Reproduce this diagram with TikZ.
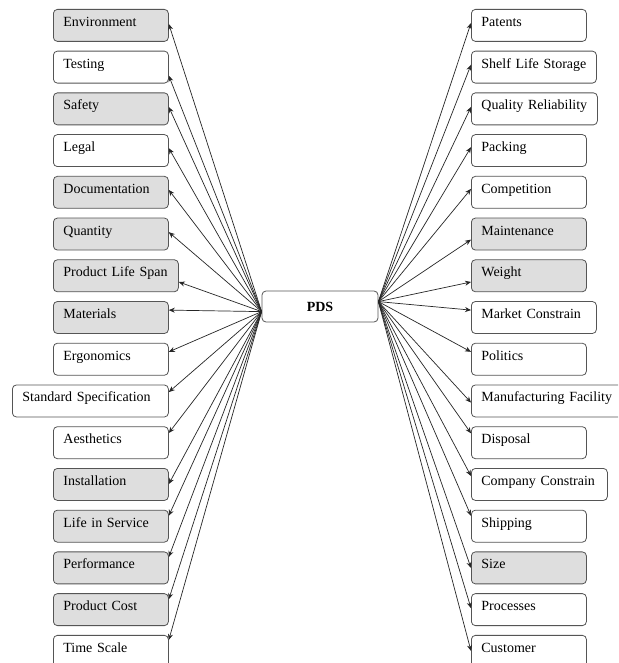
\documentclass[tikz,border=0pt]{standalone}
\usepackage{fontspec}
\setmainfont{Liberation Serif}
\usetikzlibrary{arrows.meta,calc}
\definecolor{gfill}{HTML}{DEDEDE}
\definecolor{bord}{HTML}{555555}
\begin{document}
\begin{tikzpicture}[x=1pt,y=-1pt,
  bx/.style={draw=bord, line width=0.8pt, rounded corners=4pt, text width=#1,
    inner xsep=10pt, inner ysep=0pt, text height=17pt, text depth=15pt,
    align=left, anchor=north west, font=\fontsize{14}{16}\selectfont},
  bx/.default=95pt,
  arr/.style={-{Stealth[length=6pt,width=5pt]}, line width=0.7pt, draw=black!85}]
\useasboundingbox (0,0) rectangle (618,663);
\clip (0,0) rectangle (618,663);
\fill[white] (0,0) rectangle (618,663);
\node[draw=bord, line width=0.8pt, rounded corners=4pt, minimum width=116pt,
  minimum height=31pt, inner sep=0pt, font=\fontsize{14}{16}\selectfont\bfseries]
  (PDS) at (320,306.5) {PDS};
\coordinate (PL) at ($(PDS.north west)+(0,21)$);
\coordinate (PR) at ($(PDS.north east)+(0,11)$);
\foreach \i/\t/\f/\w/\x/\o in {
  0/Environment/gfill/95/53/15,
  1/Testing/white/95/53/25,
  2/Safety/gfill/95/53/14.5,
  3/Legal/white/95/53/14,
  4/Documentation/gfill/95/53/14,
  5/Quantity/gfill/95/53/14.5,
  6/Product Life Span/gfill/105/53/22.6,
  7/Materials/gfill/95/53/9,
  8/Ergonomics/white/95/53/9,
  9/Standard Specification/white/136/12/7.5,
  10/Aesthetics/white/95/53/6.7,
  11/Installation/gfill/95/53/16,
  12/Life in Service/gfill/95/53/6,
  13/Performance/gfill/95/53/5.5,
  14/Product Cost/gfill/95/53/6,
  15/Time Scale/white/95/53/5}{
  \pgfmathsetmacro{\yy}{9+41.73*\i}
  \node[bx=\w pt, fill=\f] (L\i) at (\x,\yy) {\t};
  \draw[arr] (PL) -- ($(L\i.north east)+(0,\o)$);
}
\foreach \i/\t/\f/\w/\o in {
  0/Patents/white/95/14,
  1/Shelf Life Storage/white/105/14,
  2/Quality Reliability/white/106/14.5,
  3/Packing/white/95/13,
  4/Competition/white/95/13,
  5/Maintenance/gfill/95/22,
  6/Weight/gfill/95/22.6,
  7/Market Constrain/white/105/9,
  8/Politics/white/95/9,
  9/Manufacturing Facility/white/150/18,
  10/Disposal/white/95/7,
  11/Company Constrain/white/116/8,
  12/Shipping/white/95/6,
  13/Size/gfill/95/16.5,
  14/Processes/white/95/15,
  15/Customer/white/95/16}{
  \pgfmathsetmacro{\yy}{9+41.73*\i}
  \node[bx=\w pt, fill=\f] (R\i) at (471,\yy) {\t};
  \draw[arr] (PR) -- ($(R\i.north west)+(0,\o)$);
}
\end{tikzpicture}
\end{document}
